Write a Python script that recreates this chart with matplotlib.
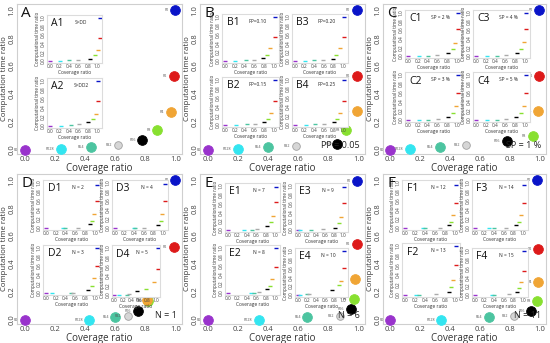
import matplotlib
matplotlib.use("Agg")
import matplotlib.pyplot as plt

W, H = 550, 343

# ---------------- data ----------------
names = ["R0", "R128", "R64", "R32", "R16", "R8", "R4", "R2", "R1"]
colors = ["#9933cc", "#33e5f0", "#4cc4a0", "#d6d6d6", "#000000",
          "#88e030", "#f0a535", "#dd1a1a", "#0a14c8"]

A_x = [0.0, 0.24, 0.44, 0.62, 0.78, 0.88, 0.97, 0.99, 1.0]
A_y = [0.0, 0.005, 0.02, 0.036, 0.071, 0.143, 0.274, 0.53, 1.0]
B_x = [0.0, 0.20, 0.40, 0.59, 0.86, 0.92, 0.99, 0.99, 0.99]
B_y = [0.0, 0.005, 0.017, 0.03, 0.04, 0.14, 0.28, 0.53, 1.0]
C_x = [0.0, 0.13, 0.33, 0.51, 0.78, 0.955, 0.99, 1.0, 1.0]
C_y = [0.0, 0.007, 0.017, 0.033, 0.064, 0.10, 0.28, 0.53, 1.0]
D_x = [0.0, 0.43, 0.60, 0.685, 0.75, 0.82, 0.81, 0.99, 1.0]
D_y = [0.0, 0.0, 0.017, 0.03, 0.064, 0.138, 0.14, 0.524, 1.0]
E_x = [0.0, 0.34, 0.66, 0.88, 0.95, 0.97, 0.98, 0.99, 0.995]
E_y = [0.0, 0.0, 0.017, 0.03, 0.076, 0.15, 0.29, 0.54, 0.995]
F_x = [0.0, 0.34, 0.66, 0.83, 0.945, 0.985, 0.99, 0.99, 0.985]
F_y = [0.0, 0.0, 0.017, 0.03, 0.064, 0.136, 0.27, 0.51, 1.0]

# inset series (coverage, time)
A1_x = [0.0, 0.21, 0.40, 0.60, 0.84, 0.95, 1.02, 1.05, 1.05]
A1_y = [0.0, 0.0, 0.015, 0.02, 0.05, 0.13, 0.25, 0.52, 1.0]
A2_x = [0.0, 0.24, 0.44, 0.62, 0.80, 0.92, 0.98, 1.02, 1.02]
A2_y = [0.0, 0.0, 0.015, 0.03, 0.08, 0.14, 0.26, 0.55, 1.0]
B1_x = [0.0, 0.20, 0.42, 0.60, 0.78, 0.86, 0.92, 1.02, 1.02]
B1_y = [0.0, 0.0, 0.01, 0.02, 0.06, 0.14, 0.28, 0.55, 1.0]
B2_x = [0.0, 0.22, 0.45, 0.62, 0.80, 0.88, 0.94, 1.02, 1.02]
B2_y = [0.0, 0.0, 0.01, 0.02, 0.06, 0.13, 0.26, 0.52, 1.0]
B3_x = [0.0, 0.20, 0.40, 0.58, 0.78, 0.86, 0.94, 1.02, 1.02]
B3_y = [0.0, 0.0, 0.01, 0.02, 0.05, 0.13, 0.28, 0.55, 1.0]
B4_x = [0.0, 0.22, 0.42, 0.60, 0.80, 0.88, 0.94, 1.02, 1.02]
B4_y = [0.0, 0.0, 0.01, 0.02, 0.06, 0.13, 0.27, 0.52, 1.0]
C1_x = [0.0, 0.22, 0.40, 0.60, 0.82, 0.92, 0.96, 1.02, 1.02]
C1_y = [0.0, 0.0, 0.0, 0.01, 0.06, 0.15, 0.30, 0.62, 1.0]
C2_x = [0.0, 0.22, 0.40, 0.62, 0.82, 0.92, 0.97, 1.02, 1.02]
C2_y = [0.0, 0.0, 0.0, 0.01, 0.06, 0.15, 0.30, 0.60, 1.0]
C3_x = [0.0, 0.22, 0.42, 0.62, 0.84, 0.92, 0.97, 1.02, 1.02]
C3_y = [0.0, 0.0, 0.0, 0.01, 0.06, 0.15, 0.32, 0.62, 1.0]
C4_x = [0.0, 0.22, 0.42, 0.62, 0.82, 0.92, 0.97, 1.02, 1.02]
C4_y = [0.0, 0.0, 0.0, 0.01, 0.06, 0.15, 0.30, 0.60, 1.0]
D1_x = [0.0, 0.35, 0.38, 0.65, 0.90, 0.94, 0.98, 1.03, 1.03]
D1_y = [0.0, 0.0, 0.0, 0.0, 0.08, 0.15, 0.30, 0.60, 0.95]
D2_x = [0.0, 0.12, 0.50, 0.55, 0.85, 0.93, 0.98, 1.03, 1.03]
D2_y = [0.0, 0.0, 0.0, 0.0, 0.06, 0.15, 0.32, 0.60, 1.0]
D3_x = [0.0, 0.40, 0.42, 0.60, 0.90, 0.95, 0.98, 1.03, 1.03]
D3_y = [0.0, 0.0, 0.0, 0.0, 0.06, 0.15, 0.30, 0.60, 0.97]
D4_x = [0.0, 0.10, 0.30, 0.35, 0.55, 0.75, 0.95, 1.05, 1.05]
D4_y = [0.0, 0.0, 0.0, 0.02, 0.08, 0.12, 0.28, 0.55, 1.0]
E1_x = [0.0, 0.34, 0.50, 0.62, 0.82, 0.90, 0.95, 1.02, 1.02]
E1_y = [0.0, 0.0, 0.0, 0.02, 0.08, 0.18, 0.32, 0.62, 0.97]
E2_x = [0.0, 0.48, 0.55, 0.65, 0.82, 0.88, 0.94, 1.02, 1.02]
E2_y = [0.0, 0.0, 0.0, 0.02, 0.09, 0.16, 0.30, 0.58, 1.0]
E3_x = [0.0, 0.05, 0.30, 0.55, 0.82, 0.90, 0.95, 1.02, 1.02]
E3_y = [0.0, 0.0, 0.0, 0.02, 0.05, 0.15, 0.30, 0.60, 0.97]
E4_x = [0.0, 0.05, 0.20, 0.25, 0.75, 0.90, 0.95, 1.02, 1.02]
E4_y = [0.0, 0.0, 0.02, 0.02, 0.10, 0.22, 0.32, 0.60, 1.0]
F1_x = [0.0, 0.35, 0.40, 0.70, 0.88, 0.92, 0.96, 1.02, 1.02]
F1_y = [0.0, 0.0, 0.0, 0.0, 0.05, 0.12, 0.28, 0.55, 0.95]
F2_x = [0.0, 0.22, 0.28, 0.62, 0.88, 0.92, 0.96, 1.02, 1.02]
F2_y = [0.0, 0.0, 0.0, 0.01, 0.06, 0.15, 0.30, 0.60, 1.0]
F3_x = [0.0, 0.30, 0.40, 0.65, 0.85, 0.92, 0.96, 1.02, 1.02]
F3_y = [0.0, 0.0, 0.0, 0.0, 0.05, 0.12, 0.28, 0.55, 0.95]
F4_x = [0.0, 0.35, 0.40, 0.70, 0.88, 0.92, 0.96, 1.02, 1.02]
F4_y = [0.0, 0.0, 0.0, 0.02, 0.06, 0.15, 0.30, 0.55, 1.0]

main_ticks = [0.0, 0.2, 0.4, 0.6, 0.8, 1.0]
main_ticklabels = ["0.0", "0.2", "0.4", "0.6", "0.8", "1.0"]

panels = [
    ("A", A_x, A_y, "", (17, 4, 182, 154),
     [("A1", "S=DD", (47, 15, 102, 63), A1_x, A1_y),
      ("A2", "S=DD2", (47, 78, 102, 128), A2_x, A2_y)]),
    ("B", B_x, B_y, "PP = 0.05", (200, 4, 365, 154),
     [("B1", "PP=0.10", (222, 14, 279, 63), B1_x, B1_y),
      ("B2", "PP=0.15", (222, 77, 279, 127), B2_x, B2_y),
      ("B3", "PP=0.20", (292, 14, 348, 63), B3_x, B3_y),
      ("B4", "PP=0.25", (292, 77, 348, 127), B4_x, B4_y)]),
    ("C", C_x, C_y, "SP = 1 %", (383, 4, 546, 154),
     [("C1", "SP = 2 %", (405, 10, 462, 58), C1_x, C1_y),
      ("C2", "SP = 3 %", (405, 72, 462, 122), C2_x, C2_y),
      ("C3", "SP = 4 %", (473, 10, 530, 58), C3_x, C3_y),
      ("C4", "SP = 5 %", (473, 72, 530, 122), C4_x, C4_y)]),
    ("D", D_x, D_y, "N = 1", (17, 174, 182, 324),
     [("D1", "N = 2", (43, 180, 100, 230), D1_x, D1_y),
      ("D2", "N = 3", (43, 245, 100, 295), D2_x, D2_y),
      ("D3", "N = 4", (112, 180, 168, 230), D3_x, D3_y),
      ("D4", "N = 5", (112, 245, 160, 297), D4_x, D4_y)]),
    ("E", E_x, E_y, "N = 6", (200, 174, 365, 324),
     [("E1", "N = 7", (225, 183, 280, 232), E1_x, E1_y),
      ("E2", "N = 8", (225, 245, 280, 295), E2_x, E2_y),
      ("E3", "N = 9", (295, 183, 348, 232), E3_x, E3_y),
      ("E4", "N = 10", (295, 248, 348, 297), E4_x, E4_y)]),
    ("F", F_x, F_y, "N = 11", (383, 174, 546, 324),
     [("F1", "N = 12", (402, 180, 460, 230), F1_x, F1_y),
      ("F2", "N = 13", (402, 243, 460, 297), F2_x, F2_y),
      ("F3", "N = 14", (472, 180, 528, 230), F3_x, F3_y),
      ("F4", "N = 15", (472, 248, 528, 297), F4_x, F4_y)]),
]

plt.rcParams['font.family'] = ['Open Sans', 'DejaVu Sans']
fig = plt.figure(figsize=(W / 100, H / 100), dpi=100)
fig.patch.set_facecolor("white")


def rect(box):
    l, t, r, b = box
    return [l / W, 1 - b / H, (r - l) / W, (b - t) / H]


def style(ax, fs, spine_col, pad):
    for s in ax.spines.values():
        s.set_color(spine_col)
        s.set_linewidth(0.8)
    ax.tick_params(length=0, labelsize=fs, colors="#444444", pad=pad)
    ax.set_xticks(main_ticks)
    ax.set_xticklabels(main_ticklabels)
    ax.set_yticks(main_ticks)
    ax.set_yticklabels(main_ticklabels, rotation=90, va="center")


for letter, mx, my, note, box, insets in panels:
    ax = fig.add_axes(rect(box))
    ax.set_xlim(-0.05, 1.045)
    ax.set_ylim(-0.03, 1.045)
    style(ax, 5.5, "#cfcfcf", 1.2)
    ax.set_xlabel("Coverage ratio", fontsize=7, color="#333333", labelpad=0)
    ax.set_ylabel("Computation time ratio", fontsize=5.6, color="#333333", labelpad=0.3)
    for i in range(len(names)):
        ms = 5.5 if names[i] == "R32" else 7
        ec = "#a0a0a0" if names[i] == "R32" else colors[i]
        ax.plot(mx[i], my[i], "o", color=colors[i], ms=ms, mec=ec, mew=0.6,
                zorder=3, clip_on=False)
        ax.annotate(names[i], (mx[i], my[i]), xytext=(-4.5, 0), textcoords="offset points",
                    fontsize=2.6, color="#555555", ha="right", va="center")
    ax.text(0.025, 0.985, letter, transform=ax.transAxes, fontsize=11,
            ha="left", va="top", color="#111111")
    if note:
        ax.text(0.97, 0.03, note, transform=ax.transAxes, fontsize=6.5,
                ha="right", va="bottom", color="#222222")
    for iname, ilabel, ibox, ix, iy in insets:
        ia = fig.add_axes(rect(ibox))
        ia.set_facecolor("white")
        ia.set_xlim(-0.06, 1.1)
        ia.set_ylim(-0.05, 1.06)
        style(ia, 3.4, "#dcdcdc", 1)
        ia.set_xlabel("Coverage ratio", fontsize=3.5, color="#333333", labelpad=0.5)
        ia.set_ylabel("Computational time ratio", fontsize=3.3, color="#333333", labelpad=0.5)
        for i in range(len(names)):
            ia.plot(ix[i], iy[i], "_", color=colors[i] if names[i] != "R32" else "#aaaaaa",
                    ms=3.4, mew=1.0)
        ia.text(0.08, 0.93, iname, transform=ia.transAxes, fontsize=7.5,
                ha="left", va="top", color="#111111")
        ia.text(0.62, 0.9, ilabel, transform=ia.transAxes, fontsize=3.5,
                ha="center", va="top", color="#222222")

fig.savefig("out.png", dpi=100, facecolor="white")
